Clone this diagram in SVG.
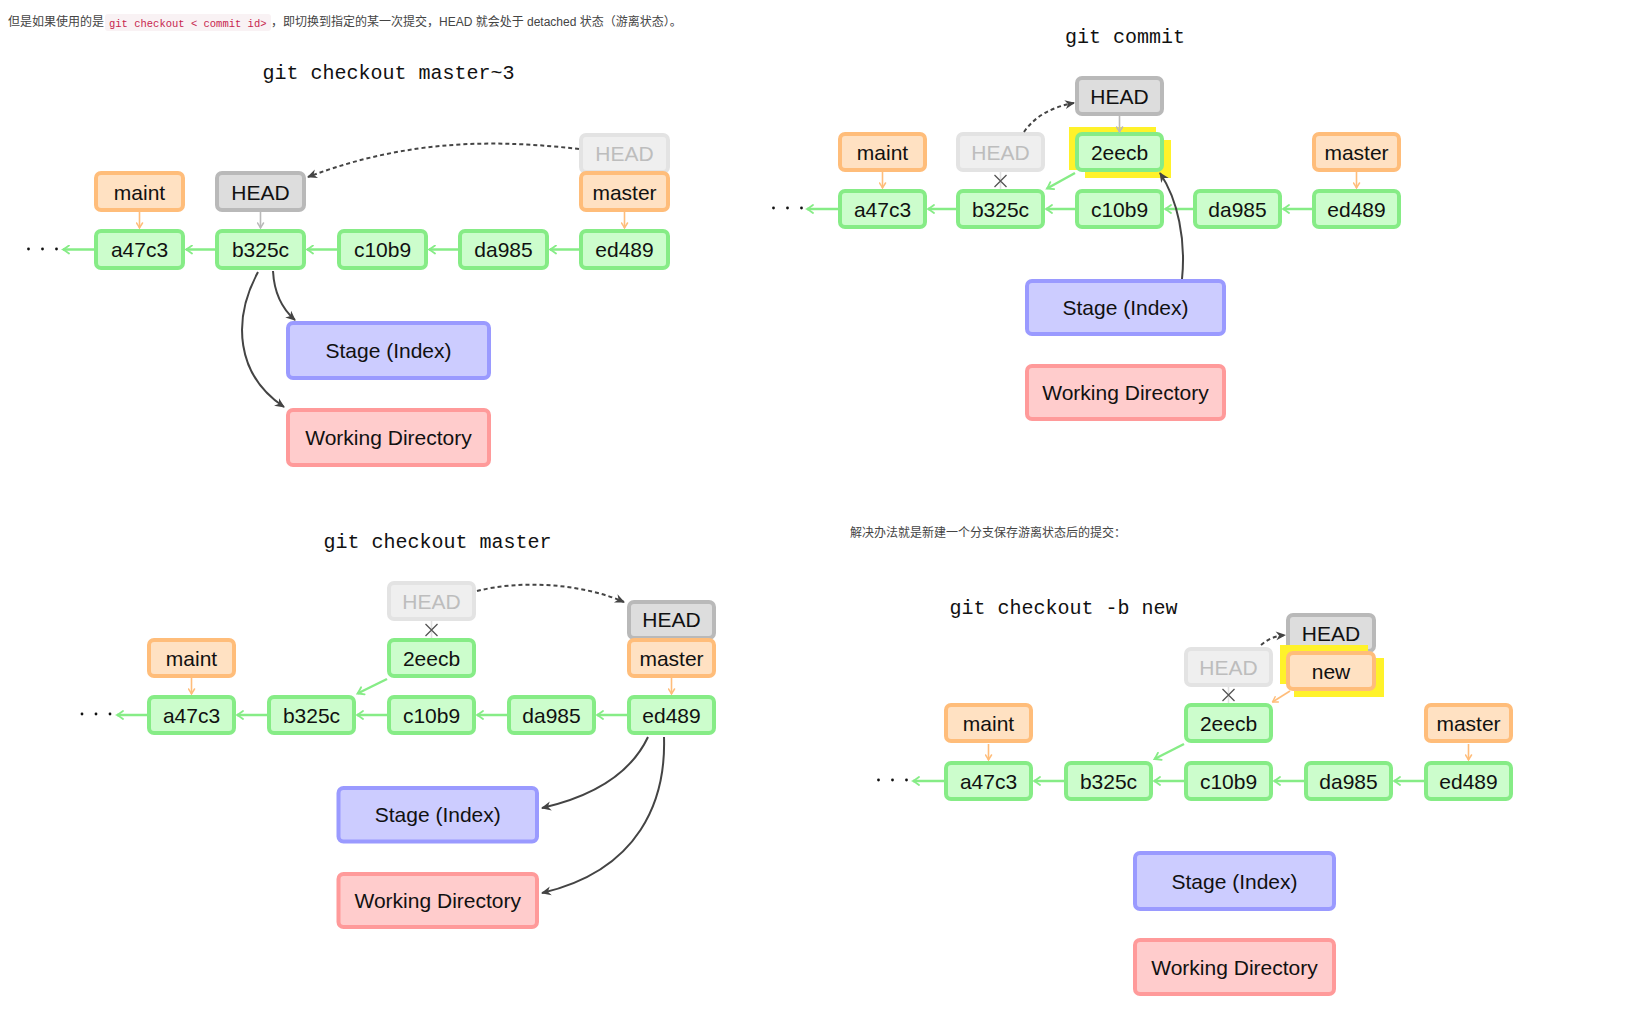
<svg xmlns="http://www.w3.org/2000/svg" width="1632" height="1032" viewBox="0 0 1632 1032">
  <style>
    .n rect { stroke-width: 4; }
    .n text { font-family: "Liberation Sans", Arial, sans-serif; font-size: 21px; text-anchor: middle; fill: #111; }
    .commit rect { fill: #ccfdcc; stroke: #86ec86; }
    .branch rect { fill: #ffe1c2; stroke: #ffbd7a; }
    .head rect { fill: #dddddd; stroke: #b9b9b9; }
    .ghost rect { fill: #efefef; stroke: #e3e3e3; }
    .ghost text { fill: #bdbdbd; }
    .stage rect { fill: #ccccff; stroke: #9a9aff; }
    .work rect { fill: #ffcccc; stroke: #ff9a9a; }
    .n rect.hl { fill: #fff22a; stroke: none; }
    .title { font-family: "Liberation Mono", "DejaVu Sans Mono", monospace; font-size: 20px; text-anchor: middle; fill: #111; }
    .note { font-family: "Liberation Sans", "Noto Sans CJK SC", sans-serif; font-size: 12px; fill: #444; }
    .code { font-family: "Liberation Mono", "DejaVu Sans Mono", monospace; font-size: 10.5px; fill: #c7254e; }
    .g-arrow { stroke: #86ec86; stroke-width: 2.5; fill: none; marker-end: url(#mGreen); }
    .o-arrow { stroke: #ffbd7a; stroke-width: 1.6; fill: none; marker-end: url(#mOrange); }
    .h-arrow { stroke: #b9b9b9; stroke-width: 1.6; fill: none; marker-end: url(#mGray); }
    .d-arrow { stroke: #444; stroke-width: 2; fill: none; marker-end: url(#mDark); }
    .dash { stroke: #444; stroke-width: 2; fill: none; stroke-dasharray: 4 3; marker-end: url(#mDark); }
    .faint { stroke: #e0e0e0; stroke-width: 1.6; }
    .cross { stroke: #555; stroke-width: 1.3; }
    .dot { fill: #111; }
  </style>
  <defs>
    <marker id="mGreen" viewBox="-8 -5 10 10" refX="0" refY="0" markerWidth="10" markerHeight="10" markerUnits="userSpaceOnUse" orient="auto">
      <path d="M-6,-4 Q-2,-1 0,0 Q-2,1 -6,4" fill="none" stroke="#86ec86" stroke-width="1.8" stroke-linecap="round"/>
    </marker>
    <marker id="mOrange" viewBox="-7 -4 8 8" refX="0" refY="0" markerWidth="8" markerHeight="8" markerUnits="userSpaceOnUse" orient="auto">
      <path d="M-5,-3 Q-1.5,-0.8 0,0 Q-1.5,0.8 -5,3" fill="none" stroke="#ffbd7a" stroke-width="1.5" stroke-linecap="round"/>
    </marker>
    <marker id="mGray" viewBox="-7 -4 8 8" refX="0" refY="0" markerWidth="8" markerHeight="8" markerUnits="userSpaceOnUse" orient="auto">
      <path d="M-5,-3 Q-1.5,-0.8 0,0 Q-1.5,0.8 -5,3" fill="none" stroke="#b9b9b9" stroke-width="1.5" stroke-linecap="round"/>
    </marker>
    <marker id="mDark" viewBox="-11 -6 13 12" refX="0" refY="0" markerWidth="13" markerHeight="12" markerUnits="userSpaceOnUse" orient="auto">
      <path d="M1,0 L-9,-4.5 L-6,0 L-9,4.5 Z" fill="#444"/>
    </marker>
  </defs>

  <rect width="1632" height="1032" fill="#ffffff"/>

  <!-- explanatory lines -->
  <g id="notes">
    <text class="note" x="8" y="26">但是如果使用的是</text>
    <rect x="105" y="14" width="166" height="17" rx="3" fill="#f9f2f4"/>
    <text class="code" x="109" y="26.5">git checkout &lt; commit id&gt;</text>
    <text class="note" x="271" y="26">，即切换到指定的某一次提交，HEAD 就会处于 detached 状态（游离状态）。</text>
    <text class="note" x="850" y="537">解决办法就是新建一个分支保存游离状态后的提交：</text>
  </g>

  <!-- ===== git checkout master~3 ===== -->
  <text class="title" x="388.5" y="79">git checkout master~3</text>
  <g id="p1-maint" class="n branch"><rect x="96" y="173" width="87" height="37" rx="5"/><text x="139.5" y="199.5">maint</text></g>
  <g id="p1-head" class="n head"><rect x="217" y="173" width="87" height="37" rx="5"/><text x="260.5" y="199.5">HEAD</text></g>
  <g id="p1-head-old" class="n ghost"><rect x="581" y="135" width="87" height="37" rx="5"/><text x="624.5" y="161">HEAD</text></g>
  <g id="p1-master" class="n branch"><rect x="581" y="173" width="87" height="37" rx="5"/><text x="624.5" y="199.5">master</text></g>
  <g id="p1-a47c3" class="n commit"><rect x="96" y="231" width="87" height="37" rx="5"/><text x="139.5" y="257">a47c3</text></g>
  <g id="p1-b325c" class="n commit"><rect x="217" y="231" width="87" height="37" rx="5"/><text x="260.5" y="257">b325c</text></g>
  <g id="p1-c10b9" class="n commit"><rect x="339" y="231" width="87" height="37" rx="5"/><text x="382.5" y="257">c10b9</text></g>
  <g id="p1-da985" class="n commit"><rect x="460" y="231" width="87" height="37" rx="5"/><text x="503.5" y="257">da985</text></g>
  <g id="p1-ed489" class="n commit"><rect x="581" y="231" width="87" height="37" rx="5"/><text x="624.5" y="257">ed489</text></g>
  <g id="p1-stage" class="n stage"><rect x="288" y="323" width="201" height="55" rx="5"/><text x="388.5" y="358">Stage (Index)</text></g>
  <g id="p1-work" class="n work"><rect x="288" y="410" width="201" height="55" rx="5"/><text x="388.5" y="445">Working Directory</text></g>

  <!-- ===== git commit ===== -->
  <text class="title" x="1125" y="43">git commit</text>
  <g id="p2-head" class="n head"><rect x="1077" y="78" width="85" height="36" rx="5"/><text x="1119.5" y="103.5">HEAD</text></g>
  <g id="p2-maint" class="n branch"><rect x="840" y="134" width="85" height="36" rx="5"/><text x="882.5" y="159.5">maint</text></g>
  <g id="p2-head-old" class="n ghost"><rect x="958" y="134" width="85" height="36" rx="5"/><text x="1000.5" y="159.5">HEAD</text></g>
  <g id="p2-2eecb" class="n commit">
    <rect class="hl" x="1069" y="127" width="87" height="43"/>
    <rect class="hl" x="1085" y="140" width="86" height="38"/>
    <rect x="1077" y="134" width="85" height="36" rx="5"/><text x="1119.5" y="159.5">2eecb</text>
  </g>
  <g id="p2-master" class="n branch"><rect x="1314" y="134" width="85" height="36" rx="5"/><text x="1356.5" y="159.5">master</text></g>
  <g id="p2-a47c3" class="n commit"><rect x="840" y="191" width="85" height="36" rx="5"/><text x="882.5" y="216.5">a47c3</text></g>
  <g id="p2-b325c" class="n commit"><rect x="958" y="191" width="85" height="36" rx="5"/><text x="1000.5" y="216.5">b325c</text></g>
  <g id="p2-c10b9" class="n commit"><rect x="1077" y="191" width="85" height="36" rx="5"/><text x="1119.5" y="216.5">c10b9</text></g>
  <g id="p2-da985" class="n commit"><rect x="1195" y="191" width="85" height="36" rx="5"/><text x="1237.5" y="216.5">da985</text></g>
  <g id="p2-ed489" class="n commit"><rect x="1314" y="191" width="85" height="36" rx="5"/><text x="1356.5" y="216.5">ed489</text></g>
  <g id="p2-stage" class="n stage"><rect x="1027" y="281" width="197" height="53" rx="5"/><text x="1125.5" y="315">Stage (Index)</text></g>
  <g id="p2-work" class="n work"><rect x="1027" y="366" width="197" height="53" rx="5"/><text x="1125.5" y="400">Working Directory</text></g>

  <!-- ===== git checkout master ===== -->
  <text class="title" x="437.5" y="548">git checkout master</text>
  <g id="p3-head-old" class="n ghost"><rect x="389" y="583" width="85" height="36" rx="5"/><text x="431.5" y="608.5">HEAD</text></g>
  <g id="p3-head" class="n head"><rect x="629" y="602" width="85" height="36" rx="5"/><text x="671.5" y="627">HEAD</text></g>
  <g id="p3-maint" class="n branch"><rect x="149" y="640" width="85" height="36" rx="5"/><text x="191.5" y="665.5">maint</text></g>
  <g id="p3-2eecb" class="n commit"><rect x="389" y="640" width="85" height="36" rx="5"/><text x="431.5" y="665.5">2eecb</text></g>
  <g id="p3-master" class="n branch"><rect x="629" y="640" width="85" height="36" rx="5"/><text x="671.5" y="665.5">master</text></g>
  <g id="p3-a47c3" class="n commit"><rect x="149" y="697" width="85" height="36" rx="5"/><text x="191.5" y="722.5">a47c3</text></g>
  <g id="p3-b325c" class="n commit"><rect x="269" y="697" width="85" height="36" rx="5"/><text x="311.5" y="722.5">b325c</text></g>
  <g id="p3-c10b9" class="n commit"><rect x="389" y="697" width="85" height="36" rx="5"/><text x="431.5" y="722.5">c10b9</text></g>
  <g id="p3-da985" class="n commit"><rect x="509" y="697" width="85" height="36" rx="5"/><text x="551.5" y="722.5">da985</text></g>
  <g id="p3-ed489" class="n commit"><rect x="629" y="697" width="85" height="36" rx="5"/><text x="671.5" y="722.5">ed489</text></g>
  <g id="p3-stage" class="n stage"><rect x="338.5" y="788" width="198.5" height="53.5" rx="5"/><text x="437.75" y="822">Stage (Index)</text></g>
  <g id="p3-work" class="n work"><rect x="338.5" y="874" width="198.5" height="53" rx="5"/><text x="437.75" y="908">Working Directory</text></g>

  <!-- ===== git checkout -b new ===== -->
  <text class="title" x="1063.5" y="614">git checkout -b new</text>
  <g id="p4-head-old" class="n ghost"><rect x="1186" y="649" width="85" height="36" rx="5"/><text x="1228.5" y="674.5">HEAD</text></g>
  <g id="p4-head" class="n head"><rect x="1288" y="615" width="86" height="36" rx="5"/><text x="1331" y="640.5">HEAD</text></g>
  <g id="p4-new" class="n branch">
    <rect class="hl" x="1280" y="645" width="88" height="39"/>
    <rect class="hl" x="1294" y="658" width="90" height="39"/>
    <rect x="1288" y="653" width="86" height="36" rx="5"/><text x="1331" y="678.5">new</text>
  </g>
  <g id="p4-maint" class="n branch"><rect x="946" y="705" width="85" height="36" rx="5"/><text x="988.5" y="730.5">maint</text></g>
  <g id="p4-2eecb" class="n commit"><rect x="1186" y="705" width="85" height="36" rx="5"/><text x="1228.5" y="730.5">2eecb</text></g>
  <g id="p4-master" class="n branch"><rect x="1426" y="705" width="85" height="36" rx="5"/><text x="1468.5" y="730.5">master</text></g>
  <g id="p4-a47c3" class="n commit"><rect x="946" y="763" width="85" height="36" rx="5"/><text x="988.5" y="788.5">a47c3</text></g>
  <g id="p4-b325c" class="n commit"><rect x="1066" y="763" width="85" height="36" rx="5"/><text x="1108.5" y="788.5">b325c</text></g>
  <g id="p4-c10b9" class="n commit"><rect x="1186" y="763" width="85" height="36" rx="5"/><text x="1228.5" y="788.5">c10b9</text></g>
  <g id="p4-da985" class="n commit"><rect x="1306" y="763" width="85" height="36" rx="5"/><text x="1348.5" y="788.5">da985</text></g>
  <g id="p4-ed489" class="n commit"><rect x="1426" y="763" width="85" height="36" rx="5"/><text x="1468.5" y="788.5">ed489</text></g>
  <g id="p4-stage" class="n stage"><rect x="1135" y="853" width="199" height="56" rx="5"/><text x="1234.5" y="888.5">Stage (Index)</text></g>
  <g id="p4-work" class="n work"><rect x="1135" y="940" width="199" height="54" rx="5"/><text x="1234.5" y="974.5">Working Directory</text></g>

  <!-- connectors -->
  <g id="connectors">
    <!-- panel 1 -->
    <path class="o-arrow" d="M139.5 212 V228"/>
    <path class="h-arrow" d="M260.5 212 V228"/>
    <path class="o-arrow" d="M624.5 212 V228"/>
    <path class="g-arrow" d="M579 249.5 H550"/>
    <path class="g-arrow" d="M458 249.5 H429"/>
    <path class="g-arrow" d="M337 249.5 H307"/>
    <path class="g-arrow" d="M215 249.5 H186"/>
    <path class="g-arrow" d="M94 249.5 H63"/>
    <circle class="dot" cx="28.5" cy="249" r="1.4"/><circle class="dot" cx="42.5" cy="249" r="1.4"/><circle class="dot" cx="56.5" cy="249" r="1.4"/>
    <path class="d-arrow" d="M273 271 C274 290 280 307 295 320"/>
    <path class="d-arrow" d="M258 272 C232 320 236 375 284 407"/>
    <path class="dash" d="M579 149 C500 140 410 138 308 177"/>

    <!-- panel 2 -->
    <path class="o-arrow" d="M882.5 172 V188"/>
    <path class="h-arrow" d="M1119.5 116 V132"/>
    <path class="o-arrow" d="M1356.5 172 V188"/>
    <line class="faint" x1="1000.5" y1="172" x2="1000.5" y2="189"/>
    <path class="cross" d="M994.5 175 L1006.5 187 M1006.5 175 L994.5 187"/>
    <path class="g-arrow" d="M1312 209 H1283"/>
    <path class="g-arrow" d="M1193 209 H1165"/>
    <path class="g-arrow" d="M1075 209 H1046"/>
    <path class="g-arrow" d="M956 209 H928"/>
    <path class="g-arrow" d="M838 209 H807"/>
    <path class="g-arrow" d="M1075 173 L1047 188.5"/>
    <circle class="dot" cx="773.5" cy="208" r="1.4"/><circle class="dot" cx="787.5" cy="208" r="1.4"/><circle class="dot" cx="801.5" cy="208" r="1.4"/>
    <path class="d-arrow" d="M1182 279 C1186 240 1178 200 1160 173"/>
    <path class="dash" d="M1024 132 C1035 116 1052 107 1074 103"/>

    <!-- panel 3 -->
    <path class="o-arrow" d="M191.5 678 V694"/>
    <path class="o-arrow" d="M671.5 678 V694"/>
    <line class="faint" x1="431.5" y1="621" x2="431.5" y2="638"/>
    <path class="cross" d="M425.5 624 L437.5 636 M437.5 624 L425.5 636"/>
    <path class="g-arrow" d="M627 715 H597"/>
    <path class="g-arrow" d="M507 715 H477"/>
    <path class="g-arrow" d="M387 715 H357"/>
    <path class="g-arrow" d="M267 715 H237"/>
    <path class="g-arrow" d="M147 715 H117"/>
    <path class="g-arrow" d="M387 679 L357.5 693.5"/>
    <circle class="dot" cx="82" cy="714" r="1.4"/><circle class="dot" cx="96" cy="714" r="1.4"/><circle class="dot" cx="110" cy="714" r="1.4"/>
    <path class="d-arrow" d="M648 737 C630 775 590 797 542 808"/>
    <path class="d-arrow" d="M664 737 C666 800 640 870 542 893"/>
    <path class="dash" d="M477 591 C520 580 580 583 624 602"/>

    <!-- panel 4 -->
    <path class="o-arrow" d="M988.5 744 V760"/>
    <path class="o-arrow" d="M1468.5 744 V760"/>
    <path class="o-arrow" d="M1290 691 L1272.5 702"/>
    <line class="faint" x1="1228.5" y1="687" x2="1228.5" y2="703"/>
    <path class="cross" d="M1222.5 689 L1234.5 701 M1234.5 689 L1222.5 701"/>
    <path class="g-arrow" d="M1424 781 H1394"/>
    <path class="g-arrow" d="M1304 781 H1274"/>
    <path class="g-arrow" d="M1184 781 H1154"/>
    <path class="g-arrow" d="M1064 781 H1034"/>
    <path class="g-arrow" d="M944 781 H913"/>
    <path class="g-arrow" d="M1184 744 L1154.5 759"/>
    <circle class="dot" cx="878.5" cy="780" r="1.4"/><circle class="dot" cx="892.5" cy="780" r="1.4"/><circle class="dot" cx="906.5" cy="780" r="1.4"/>
    <path class="dash" d="M1261 645 C1268 639 1275 636 1285 635"/>
  </g>
</svg>
